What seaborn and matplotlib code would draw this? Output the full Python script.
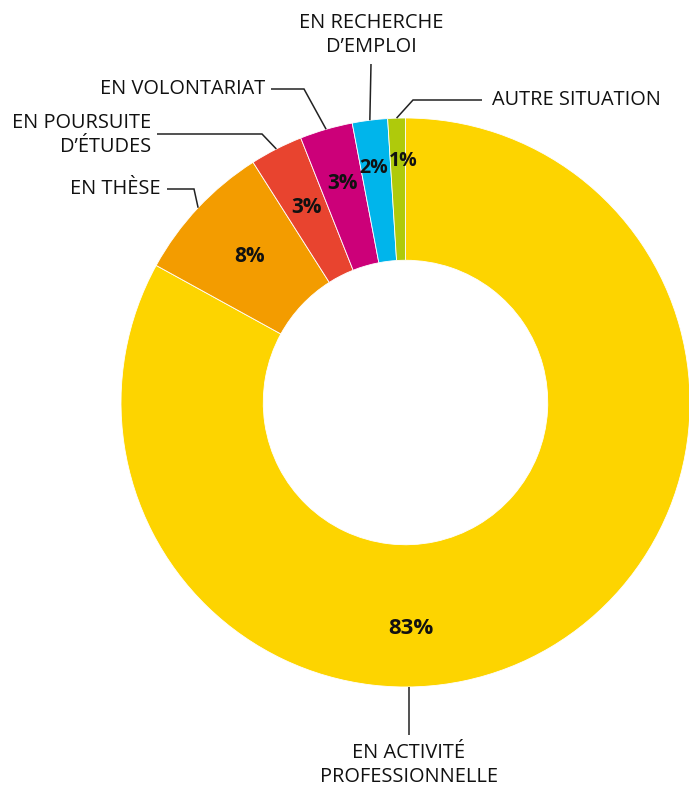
import matplotlib
matplotlib.use("Agg")
import numpy as np
import matplotlib.pyplot as plt
import seaborn as sns

# --- Data ---
categories = ["EN ACTIVITÉ\nPROFESSIONNELLE", "EN THÈSE", "EN POURSUITE\nD’ÉTUDES",
              "EN VOLONTARIAT", "EN RECHERCHE\nD’EMPLOI", "AUTRE SITUATION"]
shares = [83, 8, 3, 3, 2, 1]
pct_labels = ["83%", "8%", "3%", "3%", "2%", "1%"]
colors = ["#FDD400", "#F39C00", "#E8442F", "#CC0079", "#00B5EB", "#AFCA0B"]

sns.set_theme(style="white")
plt.rcParams["font.family"] = ["Open Sans", "DejaVu Sans"]

W, H = 689, 788
CX, CY, R = 405.5, 402.5, 284.5


def px(x, y):
    # pixel position (from top-left) -> data units, radius = 1
    return ((x - CX) / R, (CY - y) / R)


fig = plt.figure(figsize=(W / 100, H / 100), dpi=100)
ax = fig.add_axes([0, 0, 1, 1])

wedges, _ = ax.pie(shares, colors=colors, startangle=90, counterclock=False,
                   radius=1.0,
                   wedgeprops=dict(width=0.5, edgecolor="white", linewidth=0.6))

ax.set_xlim(px(0, 0)[0], px(W, 0)[0])
ax.set_ylim(px(0, H)[1], px(0, 0)[1])
ax.axis("off")

# --- label layout ---
pct_radius = [0.795, 0.75, 0.77, 0.80, 0.83, 0.85]
pct_shift = [0, 0, 0, 0, 0.5, -1.3]      # degrees, to keep small labels apart
pct_size = [16, 15, 15, 15, 14, 14]
leaders = [
    dict(anchor=px(409.3, 687), path=[px(409.3, 735)], text=px(409, 765), ha="center"),
    dict(path=[px(194, 189), px(167, 189)], text=px(161, 189), ha="right"),
    dict(path=[px(262, 134), px(157, 134)], text=px(151, 135), ha="right"),
    dict(path=[px(304, 89), px(271, 89)], text=px(265, 89), ha="right"),
    dict(path=[px(371, 64)], text=px(371, 35), ha="center"),
    dict(path=[px(413, 100), px(482, 100)], text=px(492, 100), ha="left"),
]

for i, w in enumerate(wedges):
    mid = np.deg2rad((w.theta1 + w.theta2) / 2)
    if i == 0:
        mid = np.deg2rad(-88.6)
    lab = mid + np.deg2rad(pct_shift[i])
    r = pct_radius[i]
    ax.text(r * np.cos(lab), r * np.sin(lab), pct_labels[i], ha="center", va="center",
            fontsize=pct_size[i], fontweight="bold", color="#111111")

    lay = leaders[i]
    anchor = lay.get("anchor", (np.cos(mid), np.sin(mid)))
    pts = [anchor] + lay["path"]
    ax.plot([p[0] for p in pts], [p[1] for p in pts], color="#222222", lw=1.1,
            solid_capstyle="butt", solid_joinstyle="miter")
    ax.text(lay["text"][0], lay["text"][1], categories[i], ha=lay["ha"], va="center",
            multialignment=lay["ha"], fontsize=14.4, color="#111111", linespacing=1.3)

plt.savefig("out.png", dpi=100)
